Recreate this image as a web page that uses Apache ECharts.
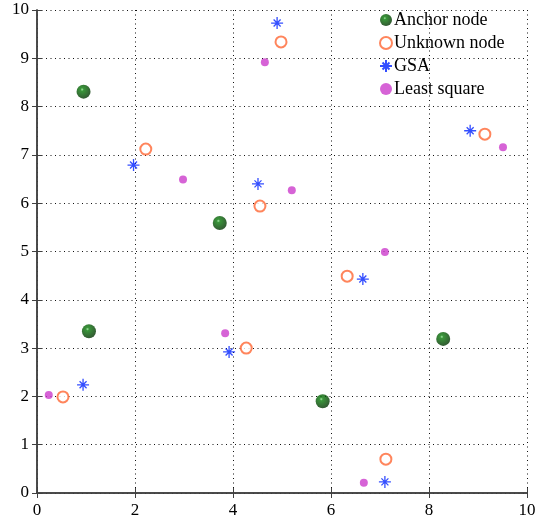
<!DOCTYPE html>
<html>
<head>
<meta charset="utf-8">
<script src="https://cdn.jsdelivr.net/npm/echarts@6/dist/echarts.min.js"></script>
<style>
  html, body { margin: 0; padding: 0; background: #fff; }
  #chart { width: 539px; height: 525px; }
</style>
</head>
<body>
<div id="chart"></div>
<script>
// 数据
var anchorNodes = [[0.95, 8.31], [3.73, 5.59], [1.06, 3.35], [8.29, 3.19], [5.83, 1.90]];
var unknownNodes = [[4.98, 9.34], [2.22, 7.12], [9.14, 7.43], [4.55, 5.94], [6.33, 4.49], [4.27, 3.00], [0.53, 1.99], [7.12, 0.70]];
var gsaNodes = [[4.90, 9.73], [8.84, 7.50], [1.97, 6.79], [4.51, 6.40], [6.65, 4.43], [3.92, 2.92], [0.94, 2.24], [7.10, 0.23]];
var lsNodes = [[4.65, 8.92], [9.51, 7.16], [2.98, 6.49], [5.20, 6.27], [7.10, 4.99], [3.84, 3.31], [0.24, 2.03], [6.67, 0.21]];
var seriesNames = ['Anchor node', 'Unknown node', 'GSA', 'Least square'];

(function() {
    var myChart = echarts.init(document.getElementById('chart'));
    var font = 'Liberation Serif';
    var tickStyle = { show: true, inside: true, length: 5, lineStyle: { color: '#404040' } };
    var lineStyle = { show: true, lineStyle: { color: '#404040', width: 1.5 } };
    var gridLine = { show: true, lineStyle: { color: '#111', type: [1, 3.5], width: 1 } };
    var label = { color: '#000', fontFamily: font, fontSize: 17 };

    var option = {
        animation: false,
        grid: { left: 37, right: 12, top: 10, bottom: 32 },
        legend: {
            orient: 'vertical',
            left: 374,
            top: 6,
            itemWidth: 12,
            itemHeight: 12,
            itemGap: 5,
            data: seriesNames,
            textStyle: { color: '#000', fontFamily: font, fontSize: 18, padding: [0, 0, 0, -3] }
        },
        xAxis: [
            {
                type: 'value', min: 0, max: 10, interval: 2,
                axisLine: lineStyle, axisTick: tickStyle, splitLine: gridLine,
                axisLabel: Object.assign({ margin: 9 }, label)
            },
            {
                type: 'value', position: 'top', min: 0, max: 10, interval: 2,
                axisLine: lineStyle, axisTick: tickStyle, splitLine: { show: false },
                axisLabel: { show: false }
            }
        ],
        yAxis: [
            {
                type: 'value', min: 0, max: 10, interval: 1,
                axisLine: lineStyle, axisTick: tickStyle, splitLine: gridLine,
                axisLabel: Object.assign({ margin: 8 }, label)
            },
            {
                type: 'value', position: 'right', min: 0, max: 10, interval: 1,
                axisLine: lineStyle, axisTick: tickStyle, splitLine: { show: false },
                axisLabel: { show: false }
            }
        ],
        series: [
            {
                name: seriesNames[0], type: 'scatter', data: anchorNodes,
                symbol: 'circle', symbolSize: 14,
                itemStyle: {
                    color: {
                        type: 'radial', x: 0.4, y: 0.35, r: 0.65,
                        colorStops: [
                            { offset: 0, color: '#8fe08f' },
                            { offset: 0.18, color: '#087a08' },
                            { offset: 1, color: '#003200' }
                        ]
                    }
                },
                z: 3
            },
            {
                name: seriesNames[1], type: 'scatter', data: unknownNodes,
                symbol: 'emptyCircle', symbolSize: 11,
                itemStyle: { color: '#ff6633', borderColor: '#ff6633', borderWidth: 1.5 },
                z: 3
            },
            {
                name: seriesNames[2], type: 'scatter', data: gsaNodes,
                symbol: 'path://M6,0L6,12M0,6L12,6M2.5,2.5L9.5,9.5M2.5,9.5L9.5,2.5',
                symbolSize: 12,
                itemStyle: { color: '#0022ff', borderColor: '#0022ff', borderWidth: 1.3 },
                z: 3
            },
            {
                name: seriesNames[3], type: 'scatter', data: lsNodes,
                symbol: 'circle', symbolSize: 8,
                itemStyle: { color: '#cc3ccc' },
                z: 3
            }
        ]
    };
    myChart.setOption(option);
})();
</script>
</body>
</html>
